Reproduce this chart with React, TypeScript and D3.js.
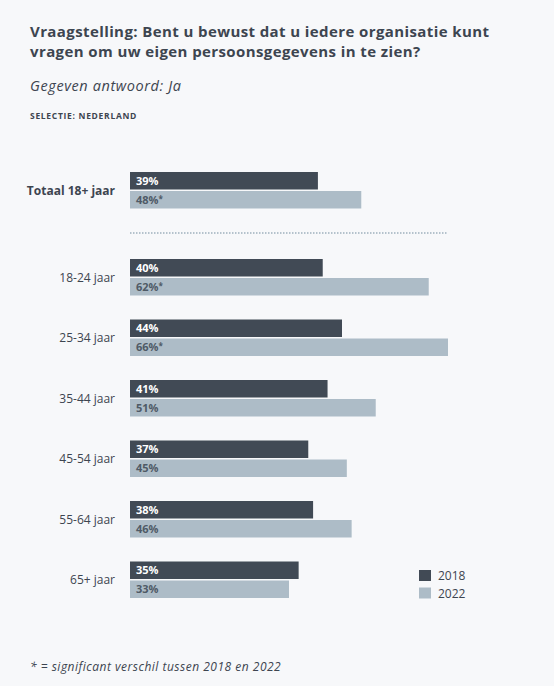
import { useRef, useEffect } from "react";
import * as d3 from "d3";

const categories = ["Totaal 18+ jaar", "18-24 jaar", "25-34 jaar", "35-44 jaar", "45-54 jaar", "55-64 jaar", "65+ jaar"];
const values2018 = [39, 40, 44, 41, 37, 38, 35];
const values2022 = [48, 62, 66, 51, 45, 46, 33];
const significant2022 = [true, true, true, false, false, false, false];
const years = ["2018", "2022"];

const W = 554;
const H = 686;
const DARK = "#414a55";
const LIGHT = "#adbcc7";
const TEXT = "#3d4550";
const FONT = "'Open Sans', 'DejaVu Sans', sans-serif";

export default function App() {
  const svgRef = useRef<SVGSVGElement>(null);

  useEffect(() => {
    const svg = d3.select(svgRef.current);
    svg.selectAll("*").remove();

    svg.append("rect").attr("width", W).attr("height", H).attr("fill", "#f7f8fa");

    // header
    const head = svg.append("g").attr("font-family", FONT).attr("fill", TEXT);
    head.append("text").attr("x", 30).attr("y", 37).attr("font-size", 15).attr("font-weight", 700)
      .attr("letter-spacing", 0.4)
      .text("Vraagstelling: Bent u bewust dat u iedere organisatie kunt");
    head.append("text").attr("x", 30).attr("y", 57).attr("font-size", 15).attr("font-weight", 700)
      .attr("letter-spacing", 0.4)
      .text("vragen om uw eigen persoonsgegevens in te zien?");
    head.append("text").attr("x", 30).attr("y", 91).attr("font-size", 14.5).attr("font-style", "italic")
      .attr("letter-spacing", 0.6)
      .text("Gegeven antwoord: Ja");
    head.append("text").attr("x", 30).attr("y", 119).attr("font-size", 8.5).attr("font-weight", 700)
      .attr("letter-spacing", 0.7)
      .text("SELECTIE: NEDERLAND");

    // group positions: total row separate, then age rows
    const rowTop = (i: number) => (i === 0 ? 172 : 259 + (i - 1) * 60.5);
    const barH = 17.5;
    const gap = 1.5;

    const x = d3.scaleLinear().domain([0, 66]).range([130, 448]);

    const g = svg.append("g").attr("font-family", FONT);

    categories.forEach((cat, i) => {
      const top = rowTop(i);
      g.append("rect").attr("x", x(0)).attr("y", top)
        .attr("width", x(values2018[i]) - x(0)).attr("height", barH).attr("fill", DARK);
      g.append("rect").attr("x", x(0)).attr("y", top + barH + gap)
        .attr("width", x(values2022[i]) - x(0)).attr("height", barH).attr("fill", LIGHT);

      g.append("text").attr("x", x(0) + 6).attr("y", top + barH / 2 + 4)
        .attr("font-size", 11).attr("font-weight", 700).attr("fill", "#ffffff")
        .text(values2018[i] + "%");
      const t = g.append("text").attr("x", x(0) + 6).attr("y", top + barH + gap + barH / 2 + 4)
        .attr("font-size", 11).attr("font-weight", 700).attr("fill", "#4f5a66")
        .text(values2022[i] + "%");
      if (significant2022[i]) {
        t.append("tspan").attr("font-size", 8).attr("dy", -2).text("*");
      }

      g.append("text").attr("x", 115).attr("y", top + barH + gap / 2 + 4.5)
        .attr("text-anchor", "end").attr("font-size", 12)
        .attr("font-weight", i === 0 ? 700 : 400).attr("fill", TEXT)
        .text(cat);
    });

    // dotted separator
    svg.append("line").attr("x1", x(0)).attr("x2", x(66)).attr("y1", 233).attr("y2", 233)
      .attr("stroke", "#9fb0bd").attr("stroke-width", 1.5).attr("stroke-dasharray", "1.5,1.5");

    // legend
    const colors = [DARK, LIGHT];
    const legend = svg.append("g").attr("font-family", FONT);
    years.forEach((yr, i) => {
      legend.append("rect").attr("x", 419).attr("y", 570 + i * 17.5).attr("width", 12).attr("height", 11)
        .attr("fill", colors[i]);
      legend.append("text").attr("x", 438).attr("y", 580 + i * 17.5).attr("font-size", 12)
        .attr("fill", TEXT).text(yr);
    });

    // footnote
    svg.append("text").attr("x", 30).attr("y", 671).attr("font-family", FONT)
      .attr("font-size", 12).attr("font-style", "italic").attr("fill", TEXT)
      .attr("letter-spacing", 0.5)
      .text("* = significant verschil tussen 2018 en 2022");
  }, []);

  return (
    <div style={{ position: "absolute", left: 0, top: 0 }}>
      <svg ref={svgRef} width={W} height={H} style={{ display: "block" }} />
    </div>
  );
}
